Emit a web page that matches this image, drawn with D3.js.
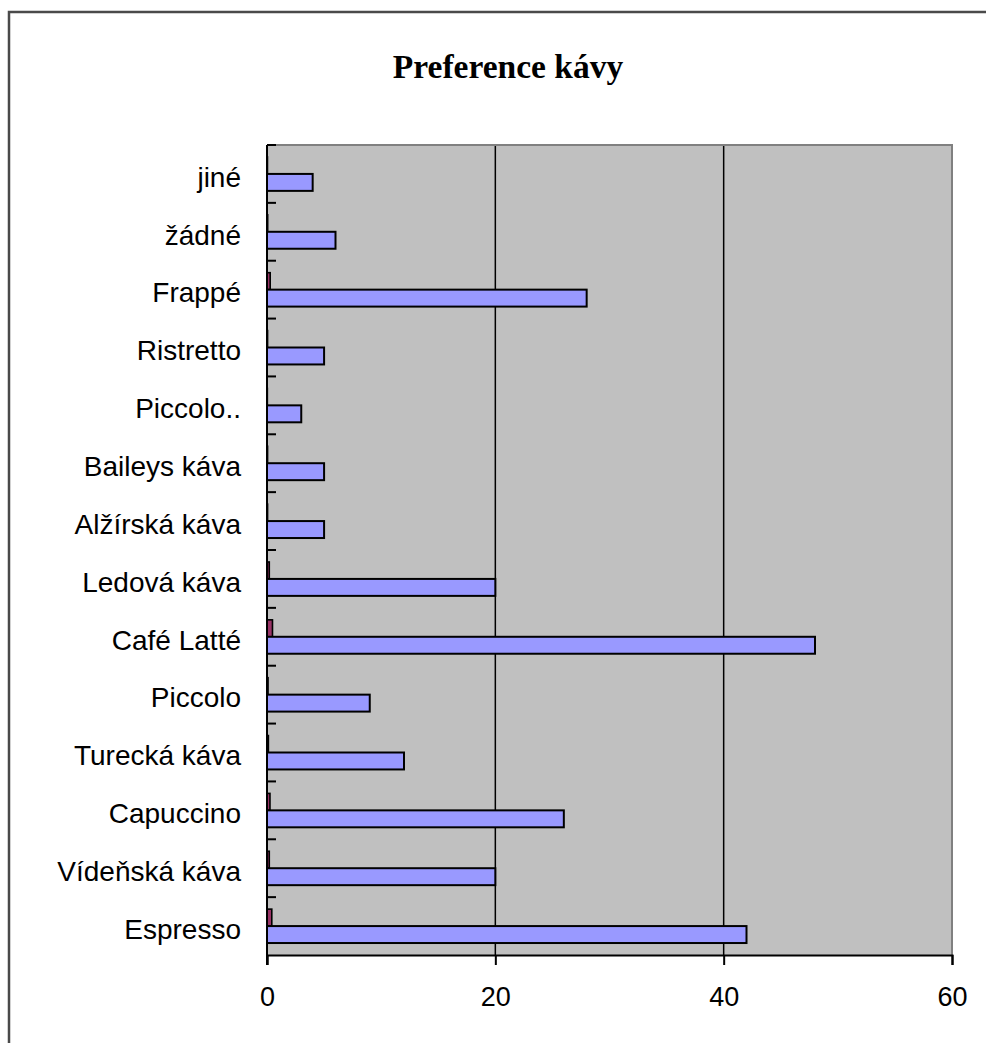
<!DOCTYPE html>
<html>
<head>
<meta charset="utf-8">
<script src="https://cdn.jsdelivr.net/npm/d3@7"></script>
<style>
  html, body { margin: 0; padding: 0; background: #fff; }
  svg { display: block; }
</style>
</head>
<body>
<script>
// ---- data (top to bottom as shown) ----
const categories = ["jiné", "žádné", "Frappé", "Ristretto", "Piccolo..", "Baileys káva",
  "Alžírská káva", "Ledová káva", "Café Latté", "Piccolo", "Turecká káva", "Capuccino",
  "Vídeňská káva", "Espresso"];
const countValues = [4, 6, 28, 5, 3, 5, 5, 20, 48, 9, 12, 26, 20, 42];
const shareValues = [0.04, 0.06, 0.28, 0.05, 0.03, 0.05, 0.05, 0.2, 0.48, 0.09, 0.12, 0.26, 0.2, 0.42];
const xTicks = [0, 20, 40, 60];
const title = "Preference kávy";

const W = 986, H = 1043;
const plot = { left: 267, right: 952, top: 145, bottom: 955 };

const svg = d3.select("body").append("svg").attr("width", W).attr("height", H);

// outer chart border
svg.append("rect").attr("x", 9).attr("y", 12).attr("width", 1200).attr("height", 1200)
  .attr("fill", "none").attr("stroke", "#4a4a4a").attr("stroke-width", 2.5);

// title
svg.append("text").attr("x", 508).attr("y", 78).attr("text-anchor", "middle")
  .attr("font-family", "'Liberation Serif', 'Times New Roman', serif")
  .attr("font-weight", "bold").attr("font-size", 33.5).attr("fill", "#000").text(title);

const x = d3.scaleLinear().domain([0, 60]).range([plot.left, plot.right]);
const y = d3.scaleBand().domain(categories).range([plot.top, plot.bottom]).paddingInner(0).paddingOuter(0);
const barH = y.bandwidth() * 0.293;

// plot background
svg.append("rect").attr("x", plot.left).attr("y", plot.top)
  .attr("width", plot.right - plot.left).attr("height", plot.bottom - plot.top)
  .attr("fill", "#C0C0C0");

// gridlines
svg.append("g").selectAll("line").data(xTicks.filter(d => d > 0 && d < 60)).join("line")
  .attr("x1", d => x(d)).attr("x2", d => x(d)).attr("y1", plot.top).attr("y2", plot.bottom)
  .attr("stroke", "#000").attr("stroke-width", 1.5);

// plot border top/right (grey)
svg.append("path").attr("d", `M${plot.left},${plot.top}H${plot.right}V${plot.bottom}`)
  .attr("fill", "none").attr("stroke", "#808080").attr("stroke-width", 2);

// bars
const g = svg.append("g");
g.selectAll("rect.share").data(categories).join("rect").attr("class", "share")
  .attr("x", x(0)).attr("y", d => y(d) + y.bandwidth() / 2 - barH)
  .attr("width", (d, i) => x(shareValues[i]) - x(0)).attr("height", barH)
  .attr("fill", "#993366").attr("stroke", "#000").attr("stroke-width", 1.6);
g.selectAll("rect.count").data(categories).join("rect").attr("class", "count")
  .attr("x", x(0)).attr("y", d => y(d) + y.bandwidth() / 2)
  .attr("width", (d, i) => x(countValues[i]) - x(0)).attr("height", barH)
  .attr("fill", "#9999FF").attr("stroke", "#000").attr("stroke-width", 2);

// x axis
const xAxis = d3.axisBottom(x).tickValues(xTicks).tickSize(10).tickPadding(22).tickFormat(d3.format("d"));
const xg = svg.append("g").attr("transform", `translate(0,${plot.bottom})`).call(xAxis);
xg.select(".domain").attr("stroke", "#000").attr("stroke-width", 2);
xg.selectAll(".tick line").attr("stroke", "#000").attr("stroke-width", 2);
xg.selectAll(".tick text").attr("font-family", "'Liberation Sans', Arial, sans-serif")
  .attr("font-size", 27).attr("fill", "#000");

// y axis (ticks inside at category boundaries)
const yb = categories.map(c => y(c)).concat([plot.bottom]);
svg.append("line").attr("x1", plot.left).attr("x2", plot.left).attr("y1", plot.top).attr("y2", plot.bottom + 10)
  .attr("stroke", "#000").attr("stroke-width", 2);
svg.append("g").selectAll("line").data(yb.slice(0, -1)).join("line")
  .attr("x1", plot.left).attr("x2", plot.left + 9).attr("y1", d => d).attr("y2", d => d)
  .attr("stroke", "#000").attr("stroke-width", 2);

// category labels
svg.append("g").selectAll("text").data(categories).join("text")
  .attr("x", 241).attr("y", d => y(d) + y.bandwidth() / 2 + 3).attr("dy", "0.35em")
  .attr("text-anchor", "end")
  .attr("font-family", "'Liberation Sans', Arial, sans-serif")
  .attr("font-size", 28).attr("fill", "#000").text(d => d);
</script>
</body>
</html>
